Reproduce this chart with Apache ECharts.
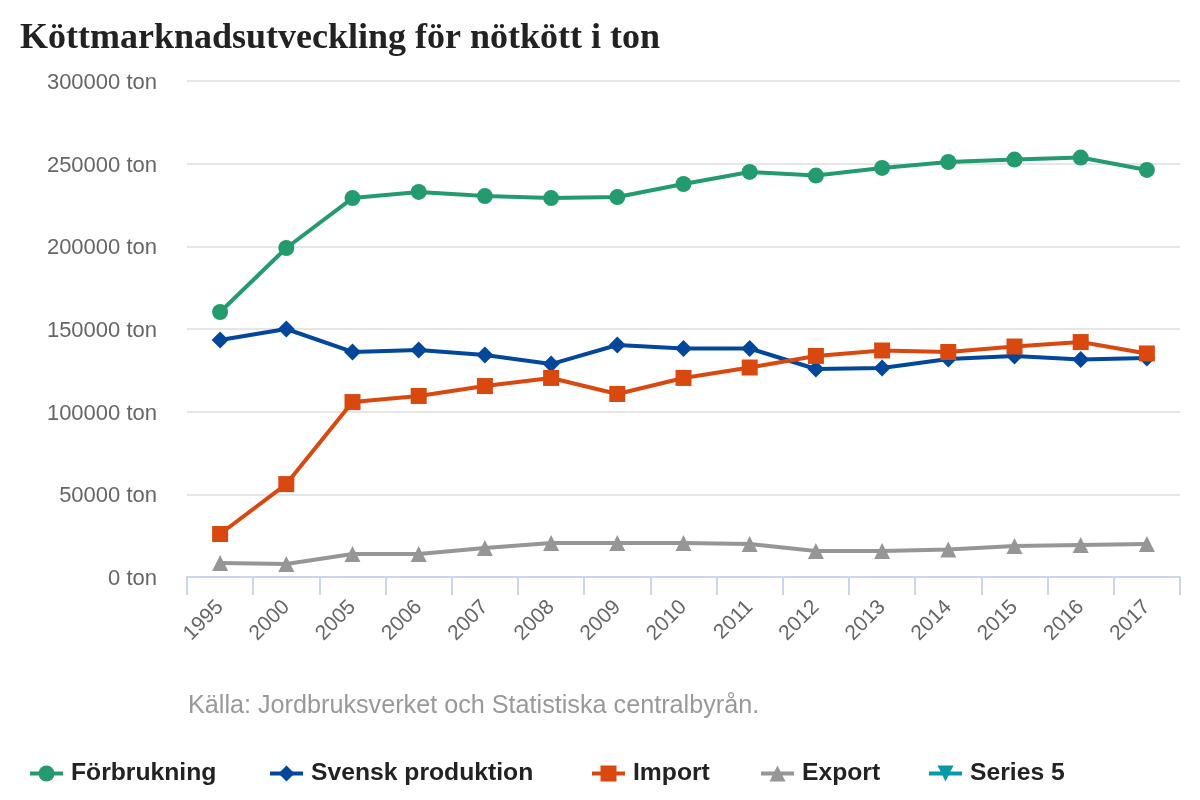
<!DOCTYPE html>
<html>
<head>
<meta charset="utf-8">
<style>
    html, body { margin: 0; padding: 0; background: #fff; }
    #chart { width: 1200px; height: 800px; }
</style>
<script src="https://cdn.jsdelivr.net/npm/echarts@6/dist/echarts.min.js"></script>
</head>
<body>
<div id="chart"></div>
<script>
var years = ['1995', '2000', '2005', '2006', '2007', '2008', '2009', '2010', '2011', '2012', '2013', '2014', '2015', '2016', '2017'];
var forbrukning = [160300, 199000, 229200, 232900, 230400, 229200, 229800, 237700, 245000, 242800, 247400, 251000, 252500, 253700, 246200];
var produktion = [143300, 150000, 136100, 137300, 134300, 128800, 140300, 138200, 138200, 125800, 126400, 131800, 133700, 131500, 132400];
var importData = [26000, 56200, 105800, 109500, 115500, 120400, 110700, 120400, 126700, 133700, 137000, 136100, 139400, 142100, 135200];
var exportData = [8500, 7900, 13900, 13900, 17500, 20600, 20600, 20600, 20000, 15700, 15700, 16600, 18700, 19400, 20000];

function line(name, color, symbol, size, data, rotate) {
    return {
        name: name,
        type: 'line',
        data: data,
        symbol: symbol,
        symbolSize: size,
        symbolRotate: rotate || 0,
        showSymbol: true,
        lineStyle: {color: color, width: 4},
        itemStyle: {color: color}
    };
}

function legendItem(name, left) {
    return {
        data: [name],
        left: left,
        top: 761,
        itemWidth: 33,
        itemHeight: 20,
        itemGap: 0,
        padding: 0,
        lineStyle: {width: 4},
        textStyle: {
            fontFamily: 'Liberation Sans',
            fontSize: 24.7,
            fontWeight: 'bold',
            color: '#222222',
            padding: [0, 0, 0, 3]
        }
    };
}

var myChart = echarts.init(document.getElementById('chart'), null, {renderer: 'canvas'});
myChart.setOption({
    animation: false,
    backgroundColor: '#ffffff',
    title: [
        {
            text: 'Köttmarknadsutveckling för nötkött i ton',
            left: 20,
            top: 21,
            padding: 0,
            textStyle: {fontFamily: 'Liberation Serif', fontSize: 36, fontWeight: 'bold', color: '#222222'}
        },
        {
            text: 'Källa: Jordbruksverket och Statistiska centralbyrån.',
            left: 188,
            top: 694,
            padding: 0,
            textStyle: {fontFamily: 'Liberation Sans', fontSize: 25.2, fontWeight: 'normal', color: '#999999'}
        }
    ],
    legend: [
        legendItem('Förbrukning', 28),
        legendItem('Svensk produktion', 268),
        legendItem('Import', 590),
        legendItem('Export', 759),
        legendItem('Series 5', 927)
    ],
    grid: {left: 187, right: 20, top: 81, height: 496, containLabel: false},
    xAxis: {
        type: 'category',
        data: years,
        boundaryGap: true,
        axisLine: {lineStyle: {color: '#ccd6eb', width: 2}},
        axisTick: {show: true, length: 18, alignWithLabel: false, lineStyle: {color: '#ccd6eb', width: 2}},
        axisLabel: {
            interval: 0,
            rotate: 45,
            margin: 27,
            fontFamily: 'Liberation Sans',
            fontSize: 21,
            color: '#666666'
        }
    },
    yAxis: {
        type: 'value',
        min: 0,
        max: 300000,
        interval: 50000,
        axisLine: {show: false},
        axisTick: {show: false},
        splitLine: {lineStyle: {color: '#e6e6e6', width: 2}},
        axisLabel: {
            formatter: function (value) {
                return value + ' ton';
            },
            margin: 30,
            verticalAlign: 'top',
            lineHeight: 4,
            fontFamily: 'Liberation Sans',
            fontSize: 22,
            color: '#666666'
        }
    },
    series: [
        line('Förbrukning', '#249b6e', 'circle', 16, forbrukning),
        line('Svensk produktion', '#03479a', 'diamond', 17, produktion),
        line('Import', '#d9480f', 'rect', 16, importData),
        line('Export', '#969696', 'triangle', 16, exportData),
        line('Series 5', '#069aa8', 'triangle', 16, [], 180)
    ]
});
</script>
</body>
</html>
